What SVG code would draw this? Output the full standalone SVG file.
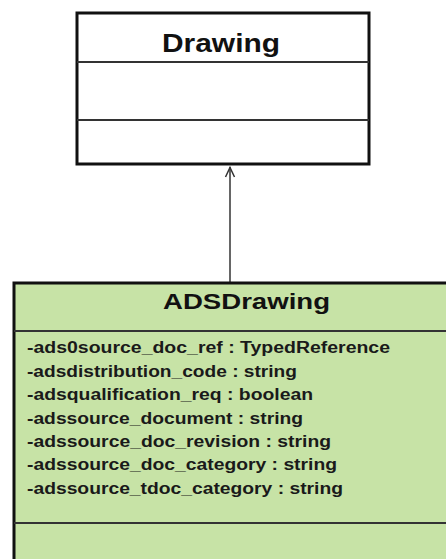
<svg xmlns="http://www.w3.org/2000/svg" width="446" height="559" viewBox="0 0 446 559">
<style>
.box{stroke:#111;stroke-width:3}
.div{stroke:#333;stroke-width:2}
.title{font-family:"Liberation Sans",Arial,sans-serif;font-weight:bold;fill:#111;text-anchor:start}
.attr{font-family:"Liberation Sans",Arial,sans-serif;font-weight:bold;font-size:16px;fill:#1a1a1a}
.conn{stroke:#333;stroke-width:1.5;fill:none}
</style>
<rect width="446" height="559" fill="#fff"/>
<g id="connectors">
<line class="conn" x1="230" y1="283" x2="230" y2="167"/>
<polyline class="conn" points="225.5,177 230,167.5 234.5,177"/>
</g>
<g id="Drawing">
<rect class="box" x="77" y="13" width="292" height="151" fill="#fff"/>
<line class="div" x1="77" y1="62" x2="369" y2="62"/>
<line class="div" x1="77" y1="120" x2="369" y2="120"/>
<text class="title" x="162" y="52" font-size="26" textLength="118" lengthAdjust="spacingAndGlyphs">Drawing</text>
</g>
<g id="ADSDrawing">
<rect class="box" x="14" y="283" width="440" height="290" fill="#c7e3a6"/>
<line class="div" x1="14" y1="331" x2="446" y2="331"/>
<line class="div" x1="14" y1="523" x2="446" y2="523"/>
<text class="title" x="163" y="309" font-size="22" textLength="167" lengthAdjust="spacingAndGlyphs">ADSDrawing</text>
<text class="attr" x="27" y="353" textLength="363" lengthAdjust="spacingAndGlyphs">-ads0source_doc_ref : TypedReference</text>
<text class="attr" x="27" y="376.5" textLength="270" lengthAdjust="spacingAndGlyphs">-adsdistribution_code : string</text>
<text class="attr" x="27" y="400" textLength="286" lengthAdjust="spacingAndGlyphs">-adsqualification_req : boolean</text>
<text class="attr" x="27" y="423.5" textLength="276" lengthAdjust="spacingAndGlyphs">-adssource_document : string</text>
<text class="attr" x="27" y="447" textLength="304" lengthAdjust="spacingAndGlyphs">-adssource_doc_revision : string</text>
<text class="attr" x="27" y="470" textLength="310" lengthAdjust="spacingAndGlyphs">-adssource_doc_category : string</text>
<text class="attr" x="27" y="493.5" textLength="316" lengthAdjust="spacingAndGlyphs">-adssource_tdoc_category : string</text>
</g>
</svg>
